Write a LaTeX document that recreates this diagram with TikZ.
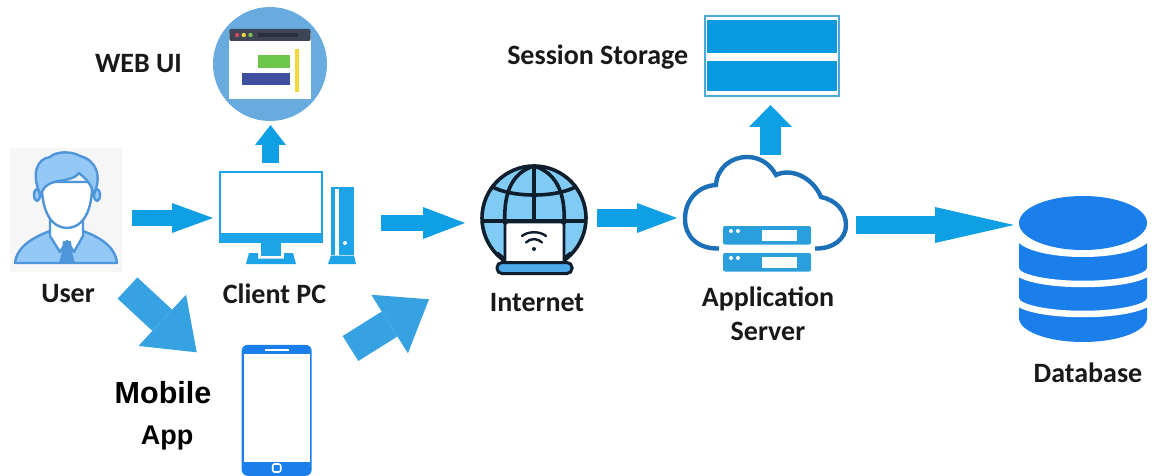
\documentclass[tikz,border=0pt]{standalone}
\usepackage{fontspec}
\setmainfont{Carlito}
\newfontfamily\arialbold[BoldFont={Liberation Sans Bold}]{Liberation Sans}
\usetikzlibrary{arrows.meta,calc}
\definecolor{arrowblue}{HTML}{0F9FE4}
\definecolor{diagblue}{HTML}{36A2E2}
\definecolor{monblue}{HTML}{1CA3E8}
\definecolor{phoneblue}{HTML}{1A7FEA}
\definecolor{webcircle}{HTML}{68ABDF}
\definecolor{winbar}{HTML}{3D4456}
\definecolor{usrfill}{HTML}{94C8F5}
\definecolor{usrline}{HTML}{4F95D9}
\definecolor{globefill}{HTML}{80CBF4}
\definecolor{globeline}{HTML}{0E1E2C}
\definecolor{lapbase}{HTML}{4DA9E8}
\definecolor{cloudline}{HTML}{1B70B8}
\definecolor{srvblue}{HTML}{2A9FDC}
\definecolor{stgline}{HTML}{4BA8D8}
\definecolor{stgblue}{HTML}{0A9AE2}
\definecolor{panelgrey}{HTML}{F6F6F6}
\definecolor{wingreen}{HTML}{6CC64A}
\definecolor{winblue}{HTML}{3F4FA0}
\definecolor{winyellow}{HTML}{F2D83A}
\definecolor{dotred}{HTML}{D0485A}
\definecolor{dotyellow}{HTML}{E8D23A}
\definecolor{dotgreen}{HTML}{7FBF5A}
\definecolor{winfield}{HTML}{2A3040}
\tikzset{
  iconbox/.style={inner sep=0pt,outer sep=0pt},
  lbl/.style={inner sep=0pt,anchor=base,font=\fontsize{28}{34}\selectfont\bfseries,align=center,text=black!90},
  fat/.style n args={3}{arrowblue,line width=#1,-{Triangle[length=#2,width=#3,line width=0pt]}},
  diag/.style n args={3}{diagblue,line width=#1,-{Triangle[length=#2,width=#3,line width=0pt]}},
  usr/.style={draw=usrline,line width=2.4pt,line join=round},
  globe/.style={draw=globeline,line width=3.6pt},
}
\begin{document}
\begin{tikzpicture}[x=1pt,y=-1pt]
\useasboundingbox (0,0) rectangle (1152,476);
\fill[white] (0,0) rectangle (1152,476);

% ---------- icon regions
\node[iconbox,minimum width=112,minimum height=124] (user) at (66,210) {};
\node[iconbox,minimum width=137,minimum height=93] (pc) at (287.5,217.5) {};
\node[iconbox,minimum width=114,minimum height=114] (webui) at (270,64) {};
\node[iconbox,minimum width=70,minimum height=131] (phone) at (276.7,410.3) {};
\node[iconbox,minimum width=106,minimum height=110] (internet) at (534,219) {};
\node[iconbox,minimum width=163,minimum height=115] (app) at (765.5,214.5) {};
\node[iconbox,minimum width=136,minimum height=82] (session) at (772,56) {};
\node[iconbox,minimum width=128,minimum height=146] (db) at (1083,269) {};

% ---------- user
\fill[panelgrey] (user.north west) rectangle (user.south east);
\path[usr,fill=usrfill] (15,263) .. controls (16,250) and (28,239) .. (50,231)
  -- (83,231) .. controls (105,239) and (116,250) .. (117,263) -- cycle;
\path[usr,fill=white] (50,215) -- (50,236) -- (60,252) -- (67,241) -- (74,252) -- (83,236) -- (83,215) -- cycle;
\fill[usrline] (63,241) -- (71,241) -- (72,252) -- (75,263) -- (59,263) -- (62,252) -- cycle;
\path[usr,fill=usrfill] (37,195) ellipse [x radius=3,y radius=6];
\path[usr,fill=usrfill] (97,195) ellipse [x radius=3,y radius=6];
\path[usr,fill=white] (42,182) .. controls (41,212) and (52,228) .. (67,228)
  .. controls (82,228) and (93,212) .. (92,182) -- cycle;
\path[usr,fill=usrfill] (41,196) .. controls (31,175) and (36,159) .. (50,157)
  .. controls (56,151) and (72,151) .. (80,156) .. controls (96,160) and (103,176) .. (93,196)
  .. controls (93,188) and (90,182) .. (79,173) .. controls (74,180) and (62,180) .. (54,182)
  .. controls (47,184) and (42,188) .. (41,196) -- cycle;

% ---------- web ui
\fill[webcircle] (webui.center) circle [radius=57];
\fill[white] (229.3,33) rectangle (310.7,99.3);
\fill[winbar,rounded corners=2pt] (229.3,29) rectangle (310.7,41);
\fill[dotred] (237,35) circle [radius=2.2];
\fill[dotyellow] (243.8,35) circle [radius=2.2];
\fill[dotgreen] (250.5,35) circle [radius=2.2];
\fill[winfield] (258,33) rectangle (298,37);
\fill[wingreen] (258,55) rectangle (289.7,67.7);
\fill[winblue] (242,73) rectangle (289.5,85.5);
\fill[winyellow] (295,49) rectangle (298.5,92);

% ---------- client pc
\draw[monblue,line width=2pt] (220,172) rectangle (322,242);
\fill[monblue] (219,233) rectangle (323,243);
\fill[monblue] (261,243) rectangle (281,256);
\fill[monblue] (249,253) -- (258,253) -- (258,258.5) -- (284,258.5) -- (284,253) -- (293,253) -- (296,264) -- (246,264) -- cycle;
\fill[monblue] (331,187) rectangle (354,255);
\fill[white] (334.5,189) rectangle (338.5,255);
\fill[monblue] (328,264) -- (331,255.5) -- (354,255.5) -- (356,264) -- cycle;
\fill[white] (345,243) circle [radius=2];

% ---------- phone
\fill[phoneblue,rounded corners=6pt] (phone.north west) rectangle (phone.south east);
\fill[white] (243.7,354) rectangle (309.7,461.7);
\fill[white] (265,349) rectangle (289,351);
\draw[white,line width=1.6pt,rounded corners=2pt] (272.7,464) rectangle (280.7,472);

% ---------- internet
\begin{scope}
\clip (470,160) rectangle (600,264);
\path[globe,fill=globefill] (internet.center) ++(0,-1) circle [radius=52];
\draw[globe] (534,166) -- (534,224);
\draw[globe] (534,166) .. controls (514,172) and (503,190) .. (505,224);
\draw[globe] (534,166) .. controls (554,172) and (566,190) .. (564,224);
\draw[globe] (491,186) .. controls (510,198) and (558,198) .. (577,186);
\draw[globe] (482,221) -- (586,221);
\draw[globe] (497,253) -- (508,262);
\draw[globe] (571,253) -- (560,262);
\end{scope}
\path[draw=globeline,line width=2.6pt,fill=white,rounded corners=3pt] (505,263) -- (505,222) -- (564,222) -- (564,263);
\path[draw=globeline,line width=3pt,fill=lapbase,rounded corners=5pt] (497,262.5) rectangle (572,273.5);
\fill[globeline] (534,262.5) circle [radius=1.6];
\fill[globeline] (534,249) circle [radius=2];
\draw[globeline,line width=2.4pt,line cap=round] (526,242.5) .. controls (530,238) and (538,238) .. (542,242.5);
\draw[globeline,line width=2.4pt,line cap=round] (522,236) .. controls (528,231) and (540,231) .. (546,236);

% ---------- application server
\draw[cloudline,line width=4.4pt] (719,248.5) .. controls (697,249) and (685,236) .. (685,219)
  .. controls (685,200) and (698,186) .. (716,185)
  .. controls (717,168) and (731,157) .. (747,157)
  .. controls (760,157) and (770,164) .. (776,175)
  .. controls (790,168) and (812,176) .. (821,197)
  .. controls (836,200) and (846,211) .. (846,225)
  .. controls (846,239) and (833,249) .. (815,248.5);
\foreach \y in {226,253}{
  \fill[srvblue,rounded corners=2pt] (723,\y) rectangle (811,\y+18.5);
  \fill[white] (762,\y+4) rectangle (797,\y+14.5);
  \fill[white] (731,\y+5) circle [radius=2];
  \fill[white] (738,\y+5) circle [radius=2];
}

% ---------- session storage
\draw[stgline,line width=1.6pt] (704.8,15.8) rectangle (839.2,96.2);
\fill[stgblue] (707,20) rectangle (837,53);
\fill[stgblue] (707,61) rectangle (837,91);

% ---------- database
\fill[phoneblue] (1019,225) -- (1019,318) arc [start angle=180,end angle=0,x radius=64,y radius=24] -- (1147,225) -- cycle;
\draw[white,line width=6.5pt] (1016,299) arc [start angle=180,end angle=0,x radius=67,y radius=15];
\draw[white,line width=6.5pt] (1016,269) arc [start angle=180,end angle=0,x radius=67,y radius=15];
\fill[white] (1016,222) -- (1016,237) arc [start angle=180,end angle=0,x radius=67,y radius=20] -- (1150,222) -- cycle;
\fill[phoneblue] (1083,223) ellipse [x radius=64,y radius=27];

% ---------- connectors
\draw[fat={16pt}{41pt}{30pt}] ($(user.east)+(10,8)$) -- ($(pc.west)+(-6,0.5)$);
\draw[fat={17pt}{20pt}{31pt}] ($(pc.north)+(-17,-8)$) -- ($(webui.south)+(0.5,4)$);
\draw[fat={16pt}{42pt}{32pt}] ($(pc.east)+(25,5.5)$) -- ($(internet.west)+(-16,4)$);
\draw[fat={17pt}{40pt}{30pt}] ($(internet.east)+(10,-1)$) -- ($(app.west)+(-7,3.5)$);
\draw[fat={21pt}{22pt}{43pt}] ($(app.north)+(5,-2)$) -- ($(session.south)+(-1.5,8)$);
\draw[fat={18pt}{79pt}{36pt}] ($(app.east)+(9,10.5)$) -- ($(db.west)+(-5,-44)$);
\draw[diag={29pt}{47pt}{70pt}] ($(user.south east)+(5.5,16)$) -- ($(phone.north west)+(-45,7.5)$);
\draw[diag={29.5pt}{46.5pt}{69pt}] ($(phone.north east)+(38.8,3.7)$) -- ($(internet.south west)+(-52,25.3)$);

% ---------- labels
\node[lbl] (lweb) at (138.5,73) {WEB UI};
\node[lbl] (luser) at (68,302) {User};
\node[lbl] (lpc) at (274.5,303) {Client PC};
\node[lbl] (lnet) at (537,311.5) {Internet};
\node[lbl] (lapp) at (768,340) {Application\\Server};
\node[lbl] (lsess) at (597.7,64.5) {Session Storage};
\node[lbl] (ldb) at (1088,382) {Database};
\node[inner sep=0pt,anchor=base,font=\fontsize{30.5}{32}\selectfont\arialbold\bfseries] (lmob) at (163,403) {Mobile};
\node[inner sep=0pt,anchor=base,font=\fontsize{27}{28}\selectfont\arialbold\bfseries] (lmapp) at (167,444) {App};
\end{tikzpicture}
\end{document}
